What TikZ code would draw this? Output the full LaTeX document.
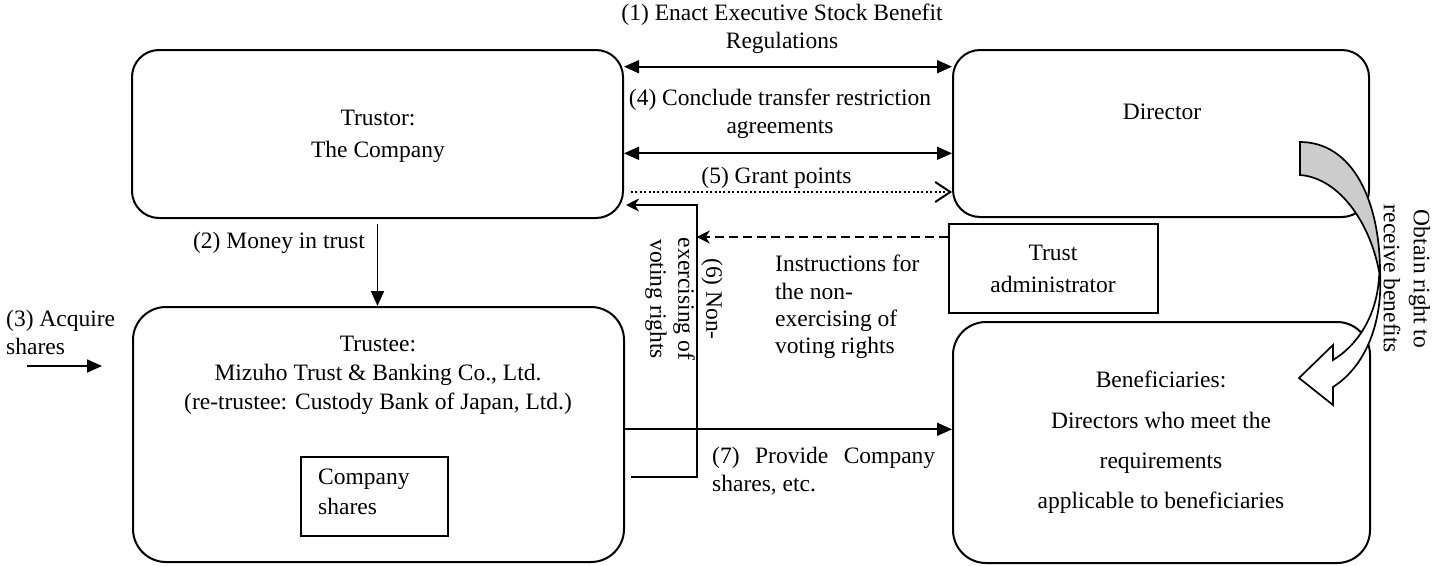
\documentclass[tikz,border=0pt]{standalone}
\usepackage{fontspec}
\setmainfont{Liberation Serif}
\usetikzlibrary{arrows.meta}
\begin{document}
\begin{tikzpicture}[x=1pt,y=-1pt,
  box/.style={draw, line width=2pt, rounded corners=27pt, inner sep=0pt},
  bigbox/.style={box, rounded corners=33pt},
  sqbox/.style={draw, line width=2pt, inner sep=0pt},
  txt/.style={inner sep=0pt, align=center, font=\fontsize{23.5}{28}\selectfont},
  conn/.style={line width=1.7pt},
  tri/.style={-{Triangle[length=15pt,width=13pt]}},
  tritri/.style={{Triangle[length=15pt,width=13pt]}-{Triangle[length=15pt,width=13pt]}},
  stl/.style={-{Stealth[length=13pt,width=13pt,inset=4pt]}},
  barb/.style={-{Straight Barb[length=15pt,width=20pt]}}
]
\useasboundingbox (0,0) rectangle (1434,565);
% boxes
\node[box, minimum width=491pt, minimum height=168pt] (trustor) at (377.5,134) {};
\node[box, minimum width=416pt, minimum height=167pt] (director) at (1161,133.5) {};
\node[bigbox, minimum width=491pt, minimum height=255pt] (trustee) at (378.5,434.5) {};
\node[bigbox, minimum width=417pt, minimum height=241pt] (benef) at (1161.5,442.5) {};
\node[sqbox, minimum width=209pt, minimum height=89pt] (admin) at (1053.5,268.5) {};
\node[sqbox, minimum width=147pt, minimum height=79pt] (shares) at (374.5,496.5) {};
% box texts
\node[txt, font=\fontsize{23.5}{32}\selectfont] (ttrustor) at (378,136) {Trustor:\\The Company};
\node[txt] (tdirector) at (1162,112) {Director};
\node[txt, font=\fontsize{23.5}{29}\selectfont] (ttrustee) at (378,375.5) {Trustee:\\Mizuho Trust \& Banking Co., Ltd.\\(re-trustee: Custody Bank of Japan, Ltd.)};
\node[txt, align=left, anchor=west, font=\fontsize{23.5}{30}\selectfont] (tshares) at (318,492) {Company\\shares};
\node[txt, font=\fontsize{23.5}{32}\selectfont] (tadmin) at (1053,269) {Trust\\administrator};
\node[txt, font=\fontsize{23.5}{40.3}\selectfont] (tbenef) at (1161,442.5) {Beneficiaries:\\Directors who meet the\\requirements\\applicable to beneficiaries};
% connectors
\draw[conn, tritri] (trustor.east |- 0,66.7) -- (director.west |- 0,66.7);
\draw[conn, tritri] (trustor.east |- 0,153.3) -- (director.west |- 0,153.3);
\draw[line width=2pt, barb, dash pattern=on 2pt off 2.4pt, shorten <=7pt] (trustor.east |- 0,192) -- (director.west |- 0,192);
\draw[conn, tri, shorten <=5pt] (trustor.south) -- (trustor.south |- trustee.north);
\coordinate (a3s) at (27,366);
\coordinate (a3e) at (102,366);
\draw[conn, tri] (a3s) -- (a3e);
\coordinate (c6top) at (696.7,205);
\coordinate (c6mid) at (696.7,237);
\coordinate (c6bot) at (696.7,477);
\draw[conn, stl, shorten <=6pt, shorten >=2pt] (trustee.east |- c6bot) -- (c6bot) -- (c6top) -- (trustor.east |- c6top);
\draw[conn, stl, dash pattern=on 9pt off 5pt] (admin.west |- c6mid) -- (c6mid);
\draw[conn, tri] (trustee.east |- 0,429.3) -- (benef.west |- 0,429.3);
% connector labels
\node[txt] (l1) at (782,29) {(1) Enact Executive Stock Benefit\\Regulations};
\node[txt] (l4) at (780,113.5) {(4) Conclude transfer restriction\\agreements};
\node[txt] (l5) at (776.5,178) {(5) Grant points};
\node[txt] (l2) at (279,243) {(2) Money in trust};
\node[txt, align=left, anchor=west] (l3) at (6,332.5) {(3) Acquire\\shares};
\node[txt, align=center, rotate=-90] (l6) at (684,299) {(6) Non-\\exercising of\\voting rights};
\node[txt, align=left, anchor=west, font=\fontsize{23.5}{27.3}\selectfont] (linstr) at (775,307) {Instructions for\\the non-\\exercising of\\voting rights};
\node[txt, align=justify, text width=223pt, anchor=west] (l7) at (712,471) {(7) Provide Company shares, etc.};
% curved block arrow
\filldraw[fill=white, line width=1.7pt, line join=miter] (1379,277) .. controls (1377,315) and (1358,345) .. (1333,360) -- (1333,345) -- (1299,378) -- (1333,405) -- (1333,387) .. controls (1366,366) and (1383,322) .. (1380,272) -- cycle;
\filldraw[fill=gray!40, line width=1.7pt] (1300,142) .. controls (1352,142) and (1381,200) .. (1380,277) .. controls (1372,225) and (1340,178) .. (1300,175) -- cycle;
\node[txt, font=\fontsize{23.5}{30}\selectfont, rotate=-90] (lobtain) at (1407,279) {Obtain right to\\receive benefits};
\end{tikzpicture}
\end{document}
